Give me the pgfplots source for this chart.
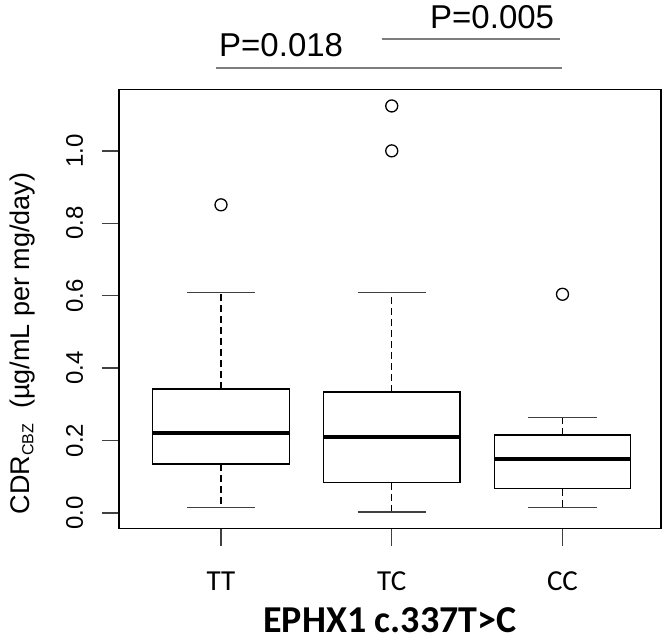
\documentclass[border=0pt]{standalone}
\usepackage{fontspec}
\setmainfont{Liberation Sans}
\newfontfamily\calibri{Carlito}
\usepackage{pgfplots}
\pgfplotsset{compat=1.18}
\usepgfplotslibrary{statistics}
\definecolor{capgray}{RGB}{64,64,64}
\definecolor{pgray}{RGB}{125,125,125}
\tikzset{
  whisk/.style={black, line width=1.3pt, dash pattern=on 7pt off 4pt},
  whiskcap/.style={capgray, line width=1.5pt},
}
\pgfplotsset{
  boxplot/draw direction=y,
  boxplot/box extend=0.8,
  boxplot/whisker extend=0.4,
  boxplot/every box/.style={black, line width=1.3pt},
  boxplot/every median/.style={black, line width=4pt},
  boxplot/draw/lower whisker/.code={%
    \draw[whisk] (boxplot box cs:\pgfplotsboxplotvalue{lower quartile},0.5) -- (boxplot box cs:\pgfplotsboxplotvalue{lower whisker},0.5);
    \draw[whiskcap] (boxplot whisker cs:\pgfplotsboxplotvalue{lower whisker},0) -- (boxplot whisker cs:\pgfplotsboxplotvalue{lower whisker},1);
  },
  boxplot/draw/upper whisker/.code={%
    \draw[whisk] (boxplot box cs:\pgfplotsboxplotvalue{upper quartile},0.5) -- (boxplot box cs:\pgfplotsboxplotvalue{upper whisker},0.5);
    \draw[whiskcap] (boxplot whisker cs:\pgfplotsboxplotvalue{upper whisker},0) -- (boxplot whisker cs:\pgfplotsboxplotvalue{upper whisker},1);
  },
}
\begin{document}
\begin{tikzpicture}
\begin{axis}[
  scale only axis,
  width=542pt, height=439.4pt,
  xmin=0.4026, xmax=3.577,
  ymin=-0.0434, ymax=1.170,
  xtick={1,2,3}, xticklabels={TT,TC,CC},
  ytick={0,0.2,0.4,0.6,0.8,1.0},
  yticklabel={\pgfmathprintnumber[fixed,fixed zerofill,precision=1]{\tick}},
  /pgf/number format/assume math mode=true,
  axis line style={black, line width=1.4pt},
  tick style={capgray, line width=1.3pt},
  tick align=outside, tick pos=left,
  major tick length=17pt,
  xticklabel style={font=\calibri\fontsize{29}{34}\selectfont, anchor=base, inner sep=0pt, yshift=-45pt},
  yticklabel style={font=\fontsize{24}{28}\selectfont, xshift=-19pt, rotate=90, anchor=base, inner sep=0pt},
  clip=false,
]
% TT
\addplot[black, mark=o, mark size=6pt, mark options={line width=1.3pt, solid},
  boxplot prepared={draw position=1, lower whisker=0.015, lower quartile=0.135,
    median=0.222, upper quartile=0.342, upper whisker=0.609}]
  table[row sep=\\, y index=0] {y\\ 0.851\\};
% TC
\addplot[black, mark=o, mark size=6pt, mark options={line width=1.3pt, solid},
  boxplot prepared={draw position=2, lower whisker=0.003, lower quartile=0.084,
    median=0.211, upper quartile=0.334, upper whisker=0.609}]
  table[row sep=\\, y index=0] {y\\ 1.0\\ 1.124\\};
% CC
\addplot[black, mark=o, mark size=6pt, mark options={line width=1.3pt, solid},
  boxplot prepared={draw position=3, lower whisker=0.015, lower quartile=0.067,
    median=0.149, upper quartile=0.215, upper whisker=0.264}]
  table[row sep=\\, y index=0] {y\\ 0.604\\};
\end{axis}
% significance bars
\draw[pgray, line width=1.8pt] (97pt,460.4pt) -- (442.7pt,460.4pt);
\draw[pgray, line width=1.8pt] (262.7pt,490pt) -- (441pt,490pt);
\node[anchor=base west, inner sep=0pt, font=\fontsize{33}{38}\selectfont] at (100pt,472pt) {P=0.018};
\node[anchor=base west, inner sep=0pt, font=\fontsize{33}{38}\selectfont] at (311pt,500.4pt) {P=0.005};
% axis labels
\node[rotate=90, anchor=base, inner sep=0pt] at (-89.5pt,185.2pt)
  {\fontsize{27}{32}\selectfont CDR{\fontsize{16}{18}\selectfont\raisebox{-4pt}{CBZ}}\ \ (µg/mL per mg/day)};
\node[anchor=base, inner sep=0pt] at (271pt,-104pt)
  {\calibri\bfseries\fontsize{38}{44}\selectfont EPHX1 c.337T>C};
\path (-119pt,-112.3pt) rectangle (547pt,528.7pt);
\end{tikzpicture}
\end{document}
